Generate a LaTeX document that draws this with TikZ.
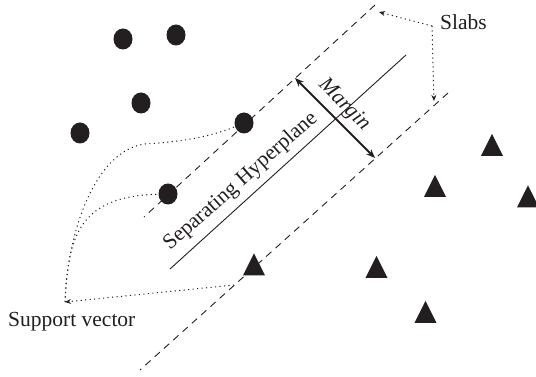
\documentclass[tikz,border=0pt]{standalone}
\usepackage{fontspec}
\setmainfont{Liberation Serif}
\usetikzlibrary{arrows.meta,shapes.geometric}
\definecolor{ink}{HTML}{231F20}
\begin{document}
\begin{tikzpicture}[x=1pt,y=-1pt,
  dotpt/.style={ellipse, fill=ink, inner sep=0pt, minimum width=19pt, minimum height=21pt},
  tript/.style={isosceles triangle, isosceles triangle apex angle=53,
    isosceles triangle stretches, shape border rotate=90, fill=ink,
    inner sep=0pt, minimum width=22pt, minimum height=22pt},
  slabline/.style={ink, line width=0.9pt, dash pattern=on 7pt off 5.5pt},
  planeline/.style={ink, line width=0.9pt},
  callout/.style={ink, line width=1pt, dash pattern=on 1.1pt off 3.4pt},
  calltip/.style={-{Stealth[length=6pt,width=5pt]}},
  label/.style={ink, inner sep=0pt, font=\fontsize{21.5}{25}\selectfont},
]
\useasboundingbox (0,0) rectangle (536,377);

% class one: filled dots
\node[dotpt] (c1) at (123,39) {};
\node[dotpt] (c2) at (176,35) {};
\node[dotpt] (c3) at (141,103) {};
\node[dotpt] (c4) at (80,133) {};
\node[dotpt] (c5) at (244,123) {};
\node[dotpt] (c6) at (168,194) {};

% class two: filled triangles
\node[tript] (t1) at (492,149) {};
\node[tript] (t2) at (435,190) {};
\node[tript] (t3) at (528,200.5) {};
\node[tript] (t4) at (376.5,271) {};
\node[tript] (t5) at (425.5,316) {};
\node[tript] (t6) at (254,268.5) {};

% slab boundaries and the separating hyperplane
\coordinate (u1) at (375,5);   \coordinate (u2) at (144,217);
\coordinate (l1) at (448,93);  \coordinate (l2) at (140,370);
\coordinate (h1) at (406,55);  \coordinate (h2) at (170,269);
\draw[slabline] (u1) -- (u2);
\draw[slabline] (l1) -- (l2);
\draw[planeline] (h1) -- (h2);

% margin arrow
\coordinate (m1) at (295,78);
\coordinate (m2) at (375,158);
\draw[ink, line width=1.8pt, {Stealth[length=9pt,width=7pt]}-{Stealth[length=9pt,width=7pt]}] (m1) -- (m2);

% labels
\node[label, rotate=41.5, anchor=base west] (hp) at (170,251) {Separating Hyperplane};
\node[label, rotate=-45, font=\fontsize{21.5}{25}\selectfont\itshape] (mg) at (344,105) {Margin};
\node[label, anchor=base west] (slabs) at (440,30) {Slabs};
\node[label, anchor=base west] (sv) at (8,326) {Support vector};

% callouts for the slabs
\coordinate (sj) at (432,26);
\coordinate (ut) at (379,12);
\coordinate (lt) at (434,101);
\draw[callout, calltip] (sj) -- (ut);
\draw[callout, calltip] (sj) -- (lt);

% callouts for the support vectors
\coordinate (svp) at (65,302);
\coordinate (tc) at (234,285);
\draw[callout] (svp) .. controls (68,225) and (98,150) .. (145,144)
  .. controls (180,142) and (210,137) .. (c5);
\draw[callout] (svp) .. controls (68,235) and (80,196) .. (c6);
\draw[callout, calltip] (tc) -- (svp);
\end{tikzpicture}
\end{document}
